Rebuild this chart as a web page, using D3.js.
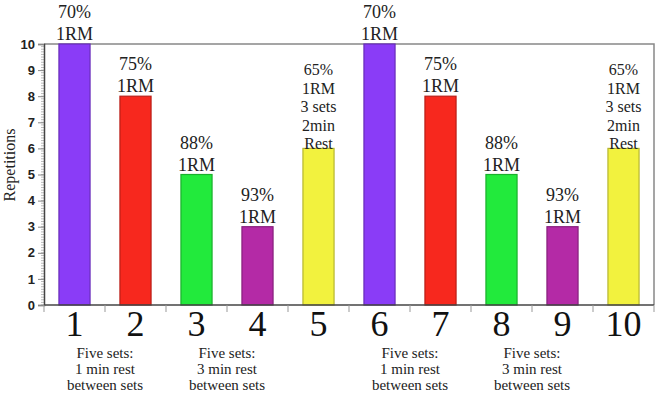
<!DOCTYPE html>
<html>
<head>
<meta charset="utf-8">
<script src="https://cdn.jsdelivr.net/npm/d3@7"></script>
<style>
  body { margin: 0; background: #fff; }
  .serif { font-family: "Liberation Serif", "DejaVu Serif", "Times New Roman", serif; }
</style>
</head>
<body>
<div id="barchart"></div>
<script>
// data
var categories = ["1", "2", "3", "4", "5", "6", "7", "8", "9", "10"];
var reps = [10, 8, 5, 3, 6, 10, 8, 5, 3, 6];
var barLabels = [
    ["70%", "1RM"], ["75%", "1RM"], ["88%", "1RM"], ["93%", "1RM"],
    ["65%", "1RM", "3 sets", "2min", "Rest"],
    ["70%", "1RM"], ["75%", "1RM"], ["88%", "1RM"], ["93%", "1RM"],
    ["65%", "1RM", "3 sets", "2min", "Rest"]
];
var barColors = ["#8a3cf7", "#f7281e", "#22ea3c", "#b42aa6", "#f2f23e",
                 "#8a3cf7", "#f7281e", "#22ea3c", "#b42aa6", "#f2f23e"];
var yTicks = [0, 1, 2, 3, 4, 5, 6, 7, 8, 9, 10];
var groupSpans = [["1", "2"], ["3", "4"], ["6", "7"], ["8", "9"]];
var groupLines = [
    ["Five sets:", "1 min rest", "between sets"],
    ["Five sets:", "3 min rest", "between sets"],
    ["Five sets:", "1 min rest", "between sets"],
    ["Five sets:", "3 min rest", "between sets"]
];

var W = 664, H = 397;
var margin = { top: 44, right: 10, bottom: 92, left: 44 };
var width = W - margin.left - margin.right,
    height = H - margin.top - margin.bottom;

var svg = d3.select("#barchart").append("svg")
    .attr("width", W)
    .attr("height", H)
    .style("background", "#fff");

var g = svg.append("g")
    .attr("transform", "translate(" + margin.left + "," + margin.top + ")");

var x = d3.scaleBand()
    .domain(categories)
    .range([0, width])
    .paddingInner(0.49)
    .paddingOuter(0.245);
var y = d3.scaleLinear()
    .domain([0, 10])
    .range([height, 0]);

// frame (top and right)
g.append("path")
    .attr("d", "M0,0H" + width + "V" + height)
    .attr("fill", "none")
    .attr("stroke", "#888")
    .attr("stroke-width", 1.5);

// minor y ticks
g.selectAll(".minor")
    .data(d3.range(0, 100).map(function (i) { return i / 10; }))
    .enter().append("line")
    .attr("class", "minor")
    .attr("x1", -3).attr("x2", 0)
    .attr("y1", function (d) { return y(d); })
    .attr("y2", function (d) { return y(d); })
    .attr("stroke", "#bbb");

// y axis
var yAxis = g.append("g")
    .call(d3.axisLeft(y).tickValues(yTicks).tickSize(6).tickPadding(3));
yAxis.select(".domain").attr("stroke", "#444").attr("stroke-width", 1.5);
yAxis.selectAll(".tick line").attr("stroke", "#888");
yAxis.selectAll(".tick text")
    .attr("font-family", "'Liberation Sans', Arial, sans-serif")
    .attr("font-weight", "bold")
    .attr("font-size", 13)
    .attr("fill", "#222");

// bars
g.selectAll(".bar")
    .data(categories)
    .enter().append("rect")
    .attr("class", "bar")
    .attr("x", function (d) { return x(d); })
    .attr("width", x.bandwidth())
    .attr("y", function (d, i) { return y(reps[i]); })
    .attr("height", function (d, i) { return height - y(reps[i]); })
    .style("fill", function (d, i) { return barColors[i]; })
    .style("stroke", function (d, i) { return d3.color(barColors[i]).darker(0.8); })
    .style("stroke-width", 1.2);

// labels above bars (long ones are set tighter)
var lbl = g.selectAll(".lbl")
    .data(categories)
    .enter().append("text")
    .attr("class", "lbl serif")
    .attr("text-anchor", "middle")
    .attr("font-size", function (d, i) { return barLabels[i].length > 2 ? 16 : 18; })
    .attr("fill", "#222");
lbl.each(function (d, i) {
    var lines = barLabels[i];
    var step = lines.length > 2 ? 18.5 : 22;
    var base = y(reps[i]) + (lines.length > 2 ? 1 : -4);
    d3.select(this).selectAll("tspan")
        .data(lines)
        .enter().append("tspan")
        .attr("x", x(d) + x.bandwidth() / 2)
        .attr("y", function (t, j) { return base - (lines.length - 1 - j) * step; })
        .text(function (t) { return t; });
});

// x axis: ticks at band edges
var edges = categories.map(function (d) { return x(d) - x.step() * x.paddingInner() / 2; })
    .concat([width]);
edges[0] = 0;
g.append("line")
    .attr("x1", 0).attr("x2", width)
    .attr("y1", height).attr("y2", height)
    .attr("stroke", "#444").attr("stroke-width", 1.5);
g.selectAll(".xtick")
    .data(edges)
    .enter().append("line")
    .attr("class", "xtick")
    .attr("x1", function (d) { return d; })
    .attr("x2", function (d) { return d; })
    .attr("y1", height).attr("y2", height + 7)
    .attr("stroke", "#999");

g.selectAll(".xlab")
    .data(categories)
    .enter().append("text")
    .attr("class", "xlab serif")
    .attr("x", function (d) { return x(d) + x.bandwidth() / 2; })
    .attr("y", height + 31)
    .attr("text-anchor", "middle")
    .attr("font-size", 36)
    .attr("fill", "#111")
    .text(function (d) { return d; });

// group notes under pairs of bars
groupSpans.forEach(function (s, k) {
    var cx = (x(s[0]) + x(s[1]) + x.bandwidth()) / 2;
    g.append("text")
        .attr("class", "serif")
        .attr("text-anchor", "middle")
        .attr("font-size", 15)
        .attr("fill", "#222")
        .selectAll("tspan")
        .data(groupLines[k])
        .enter().append("tspan")
        .attr("x", cx)
        .attr("y", function (t, j) { return height + 53 + j * 16; })
        .text(function (t) { return t; });
});

// y axis title
svg.append("text")
    .attr("class", "serif")
    .attr("transform", "translate(15,165) rotate(-90)")
    .attr("text-anchor", "middle")
    .attr("font-size", 16)
    .attr("fill", "#222")
    .text("Repetitions");
</script>
</body>
</html>
